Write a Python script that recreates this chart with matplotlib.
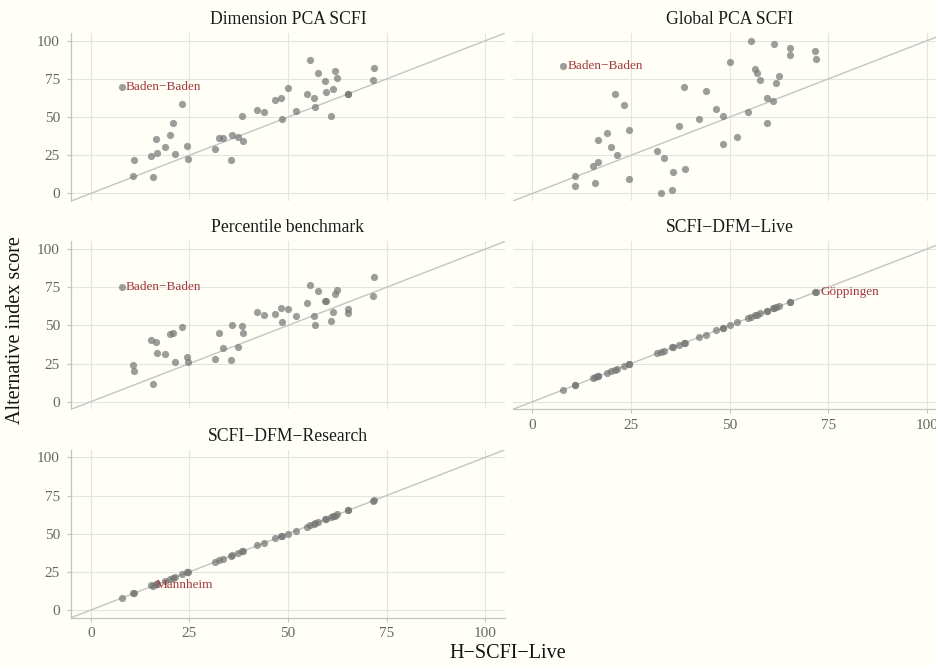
import matplotlib
matplotlib.use("Agg")
import matplotlib.pyplot as plt

# H-SCFI-Live scores for the 44 districts (shared x axis)
h_scfi_live = [7.8, 10.7, 10.9, 15.3, 15.9, 16.6, 16.7, 18.9, 20.0, 20.9, 21.4,
               23.2, 24.5, 24.6, 31.6, 32.5, 33.5, 35.5, 35.7, 37.3, 38.4, 38.6,
               42.2, 43.9, 46.6, 48.3, 48.4, 50.1, 52.0, 54.7, 55.5, 56.5, 56.9,
               57.7, 59.5, 59.6, 61.0, 61.3, 61.8, 62.5, 65.2, 65.3, 71.6, 71.8]

dimension_pca = [69.4, 11.4, 21.8, 24.5, 10.7, 35.4, 26.6, 30.3, 38.4, 46.3, 25.8,
                 58.7, 30.8, 22.7, 28.8, 36.2, 36.2, 21.8, 38.4, 37.1, 50.4, 34.3,
                 54.8, 53.5, 60.9, 62.7, 48.7, 68.8, 53.9, 64.8, 87.1, 62.7, 56.3,
                 78.8, 73.8, 66.4, 50.7, 68.1, 80.1, 75.8, 64.8, 65.0, 74.0, 81.9]

global_pca = [83.6, 4.6, 11.6, 18.3, 6.8, 20.7, 34.7, 39.3, 30.1, 64.8, 25.5,
              57.9, 41.7, 9.2, 27.7, 0.0, 23.1, 2.2, 13.8, 44.1, 69.4, 15.9,
              48.7, 67.2, 55.5, 50.9, 32.3, 86.0, 37.1, 53.3, 99.8, 81.2, 79.0,
              74.2, 62.7, 46.3, 60.3, 97.6, 72.1, 76.6, 95.2, 90.6, 93.0, 88.2]

percentile = [75.1, 24.2, 20.3, 40.2, 11.8, 39.3, 31.9, 31.4, 44.3, 44.8, 25.8,
              48.9, 29.5, 26.0, 27.7, 45.2, 35.2, 27.5, 50.2, 36.0, 49.8, 45.0,
              58.5, 57.0, 57.6, 61.4, 52.4, 61.0, 56.3, 64.8, 76.2, 56.1, 50.0,
              72.7, 65.9, 65.9, 52.6, 59.0, 70.7, 72.9, 61.0, 58.2, 69.0, 82.0]

dfm_live = [8.0, 10.8, 11.0, 15.4, 16.0, 16.6, 16.8, 19.0, 20.1, 21.0, 21.3,
            23.2, 24.6, 24.7, 31.7, 32.6, 33.4, 35.6, 35.8, 37.4, 38.5, 38.7,
            42.3, 43.9, 46.7, 48.4, 48.5, 50.1, 52.1, 54.7, 55.6, 56.6, 57.0,
            57.8, 59.6, 59.7, 61.1, 61.4, 61.9, 62.6, 65.3, 65.4, 71.7, 72.0]

dfm_research = [8.2, 11.0, 11.2, 16.6, 15.8, 16.8, 17.0, 19.2, 20.2, 21.1, 21.6,
                23.6, 24.8, 24.9, 31.3, 32.6, 33.6, 35.6, 35.8, 37.2, 38.5, 38.8,
                42.6, 43.8, 47.0, 48.2, 48.4, 50.0, 51.6, 54.6, 55.6, 56.4, 57.0,
                57.8, 59.6, 59.8, 61.2, 61.5, 61.8, 62.6, 65.2, 65.4, 71.7, 71.9]

panel_titles = ["Dimension PCA SCFI", "Global PCA SCFI", "Percentile benchmark",
                "SCFI\u2212DFM\u2212Live", "SCFI\u2212DFM\u2212Research"]
panel_values = [dimension_pca, global_pca, percentile, dfm_live, dfm_research]
# labelled district for each panel: (index into the arrays, name)
panel_labels = [(0, "Baden\u2212Baden"), (0, "Baden\u2212Baden"), (0, "Baden\u2212Baden"),
                (43, "G\u00f6ppingen"), (3, "Mannheim")]
ticks = [0, 25, 50, 75, 100]

plt.rcParams["font.family"] = ["Liberation Serif", "DejaVu Serif"]
bg = "#fffff8"
W, H = 937, 666
fig = plt.figure(figsize=(W / 100, H / 100), dpi=100, facecolor=bg)

col_left = [71, 512.6]
col_w = 434
row_top = [33.1, 241.4, 449.7]
row_h = 168

for i, (title, vals) in enumerate(zip(panel_titles, panel_values)):
    r, c = divmod(i, 2)
    ax = fig.add_axes([col_left[c] / W, 1 - (row_top[r] + row_h) / H, col_w / W, row_h / H])
    ax.set_facecolor(bg)
    ax.set_xlim(-5, 105)
    ax.set_ylim(-5, 105)
    ax.set_xticks(ticks)
    ax.set_yticks(ticks)
    ax.grid(True, color="#e4e4e2", lw=0.8)
    ax.set_axisbelow(True)
    ax.plot([-5, 105], [-5, 105], color="#c4c4c4", lw=1.0, zorder=1)
    ax.scatter(h_scfi_live, vals, s=27, color="#747474", alpha=0.7, linewidths=0, zorder=2)

    idx, name = panel_labels[i]
    ax.annotate(name, (h_scfi_live[idx], vals[idx]), xytext=(3.2, 0), textcoords="offset points",
                ha="left", va="center", color="#a33a3a", fontsize=9.5, zorder=3)

    ax.set_title(title, fontsize=12.7, color="#1a1a1a", pad=6.5)

    for s in ax.spines.values():
        s.set_visible(False)
    show_y = c == 0
    show_x = i in (3, 4)
    if show_y:
        ax.spines["left"].set_visible(True)
        ax.spines["left"].set_color("#c4c4c4")
        ax.spines["left"].set_linewidth(0.9)
    if show_x:
        ax.spines["bottom"].set_visible(True)
        ax.spines["bottom"].set_color("#c4c4c4")
        ax.spines["bottom"].set_linewidth(0.9)
    ax.tick_params(axis="y", left=show_y, labelleft=show_y, length=3, width=0.8,
                   color="#c4c4c4", labelcolor="#666666", labelsize=11, pad=5)
    ax.tick_params(axis="x", bottom=show_x, labelbottom=show_x, length=3, width=0.8,
                   color="#c4c4c4", labelcolor="#666666", labelsize=11, pad=4)

fig.text(508 / W, 1 - 653 / H, "H\u2212SCFI\u2212Live", ha="center", va="center",
         fontsize=14.5, color="#111111")
fig.text(16 / W, 1 - 330 / H, "Alternative index score", ha="center", va="center",
         rotation=90, fontsize=14.5, color="#111111")

fig.savefig("out.png", dpi=100, facecolor=bg)
